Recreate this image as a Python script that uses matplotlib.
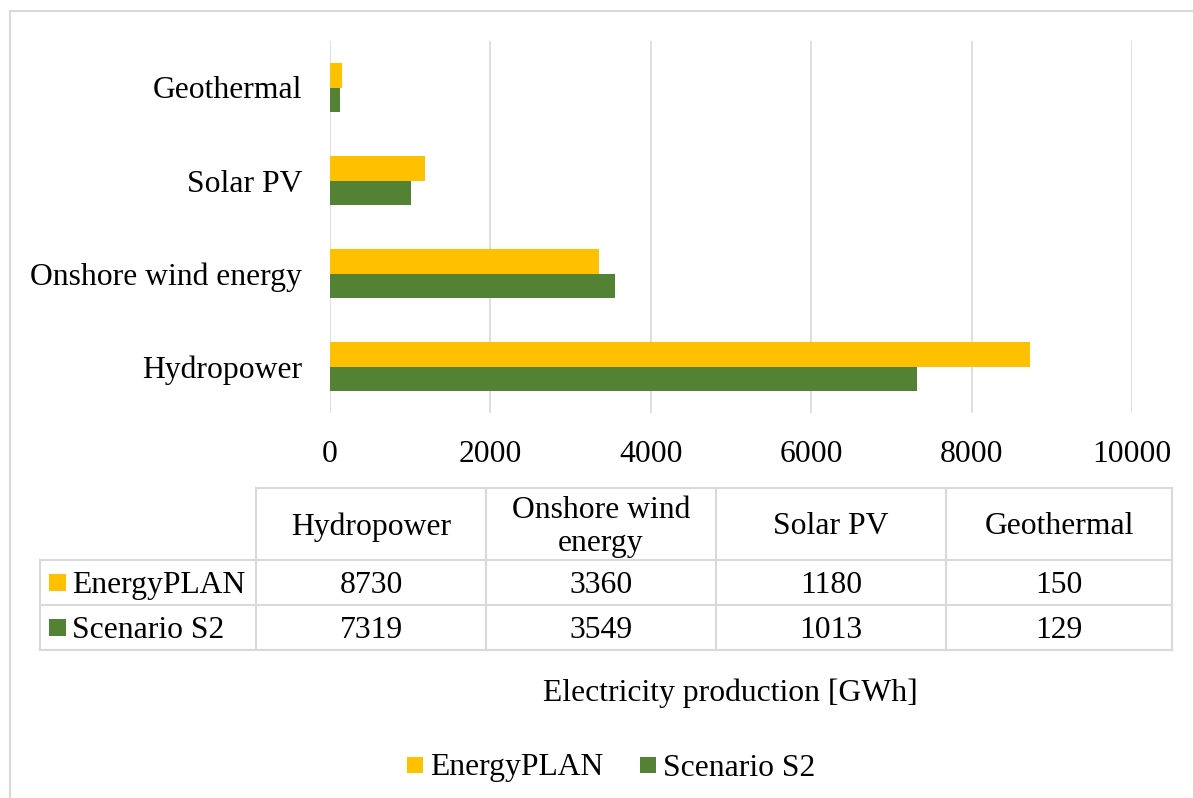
import matplotlib
matplotlib.use("Agg")
import matplotlib.pyplot as plt
from matplotlib.patches import Rectangle
from matplotlib.lines import Line2D

plt.rcParams['font.family'] = ['Liberation Serif', 'DejaVu Serif']

categories = ["Hydropower", "Onshore wind energy", "Solar PV", "Geothermal"]
table_headers = ["Hydropower", "Onshore wind\nenergy", "Solar PV", "Geothermal"]
series_names = ["EnergyPLAN", "Scenario S2"]
energyplan = [8730, 3360, 1180, 150]
scenario_s2 = [7319, 3549, 1013, 129]
x_ticks = [0, 2000, 4000, 6000, 8000, 10000]

colors = ["#FFC000", "#548235"]
grid_c = "#D9D9D9"
FS = 22.8

W, H = 1193, 798
fig = plt.figure(figsize=(W / 100, H / 100), dpi=100)


def fx(px):
    return px / W


def fy(py):
    return 1 - py / H


# outer chart-area frame
fig.add_artist(Rectangle((fx(10), fy(820)), fx(1200), fy(11) - fy(820),
                         transform=fig.transFigure, fill=False,
                         edgecolor=grid_c, linewidth=1.5))

ax = fig.add_axes([fx(330), fy(413), fx(1132) - fx(330), fy(41) - fy(413)])
pos = list(range(len(categories)))
bh = 0.26
ax.barh([p + bh / 2 for p in pos], energyplan, height=bh, color=colors[0], zorder=3)
ax.barh([p - bh / 2 for p in pos], scenario_s2, height=bh, color=colors[1], zorder=3)
ax.set_ylim(-0.5, len(categories) - 0.5)
ax.set_xlim(0, 10000)
ax.set_xticks(x_ticks)
ax.set_xticklabels([str(v) for v in x_ticks], fontsize=FS)
ax.set_yticks(pos)
ax.set_yticklabels(categories, fontsize=FS)
ax.tick_params(axis='both', length=0)
ax.tick_params(axis='x', pad=19.5)
ax.tick_params(axis='y', pad=20)
for s in ax.spines.values():
    s.set_visible(False)
ax.xaxis.grid(True, color=grid_c, linewidth=1.2, zorder=0)
ax.set_axisbelow(True)

# data table below the axis
col_x = [40, 256, 486, 716, 946, 1172]
row_y = [488, 560, 605, 650]
dy = 3  # optical centring of text in cells


def hline(x0, x1, y):
    fig.add_artist(Line2D([fx(x0), fx(x1)], [fy(y), fy(y)], transform=fig.transFigure,
                          color=grid_c, linewidth=1.5))


def vline(x, y0, y1):
    fig.add_artist(Line2D([fx(x), fx(x)], [fy(y0), fy(y1)], transform=fig.transFigure,
                          color=grid_c, linewidth=1.5))


hline(col_x[1], col_x[-1], row_y[0])
for y in row_y[1:]:
    hline(col_x[0], col_x[-1], y)
vline(col_x[0], row_y[1], row_y[3])
for x in col_x[1:]:
    vline(x, row_y[0], row_y[3])

for i, hdr in enumerate(table_headers):
    cx = (col_x[i + 1] + col_x[i + 2]) / 2
    cy = (row_y[0] + row_y[1]) / 2
    fig.text(fx(cx), fy(cy + dy), hdr, ha='center', va='center', fontsize=FS, linespacing=1.2)

for r, (name, vals) in enumerate(zip(series_names, [energyplan, scenario_s2])):
    cy = (row_y[r + 1] + row_y[r + 2]) / 2
    fig.add_artist(Rectangle((fx(49), fy(cy + 8.5)), fx(17), fy(cy - 8.5) - fy(cy + 8.5),
                             transform=fig.transFigure, facecolor=colors[r], edgecolor='none'))
    fig.text(fx(72), fy(cy + dy), name, ha='left', va='center', fontsize=FS)
    for i, v in enumerate(vals):
        cx = (col_x[i + 1] + col_x[i + 2]) / 2
        fig.text(fx(cx), fy(cy + dy), str(v), ha='center', va='center', fontsize=FS)

fig.text(fx(730), fy(690 + dy), "Electricity production [GWh]", ha='center', va='center', fontsize=FS)

# legend
leg_items = [(407, 430), (640, 663)]
for (sx, tx), name, c in zip(leg_items, series_names, colors):
    fig.add_artist(Rectangle((fx(sx), fy(773)), fx(16), fy(757) - fy(773),
                             transform=fig.transFigure, facecolor=c, edgecolor='none'))
    fig.text(fx(tx), fy(765 + dy), name, ha='left', va='center', fontsize=FS)

fig.savefig("out.png", dpi=100)
